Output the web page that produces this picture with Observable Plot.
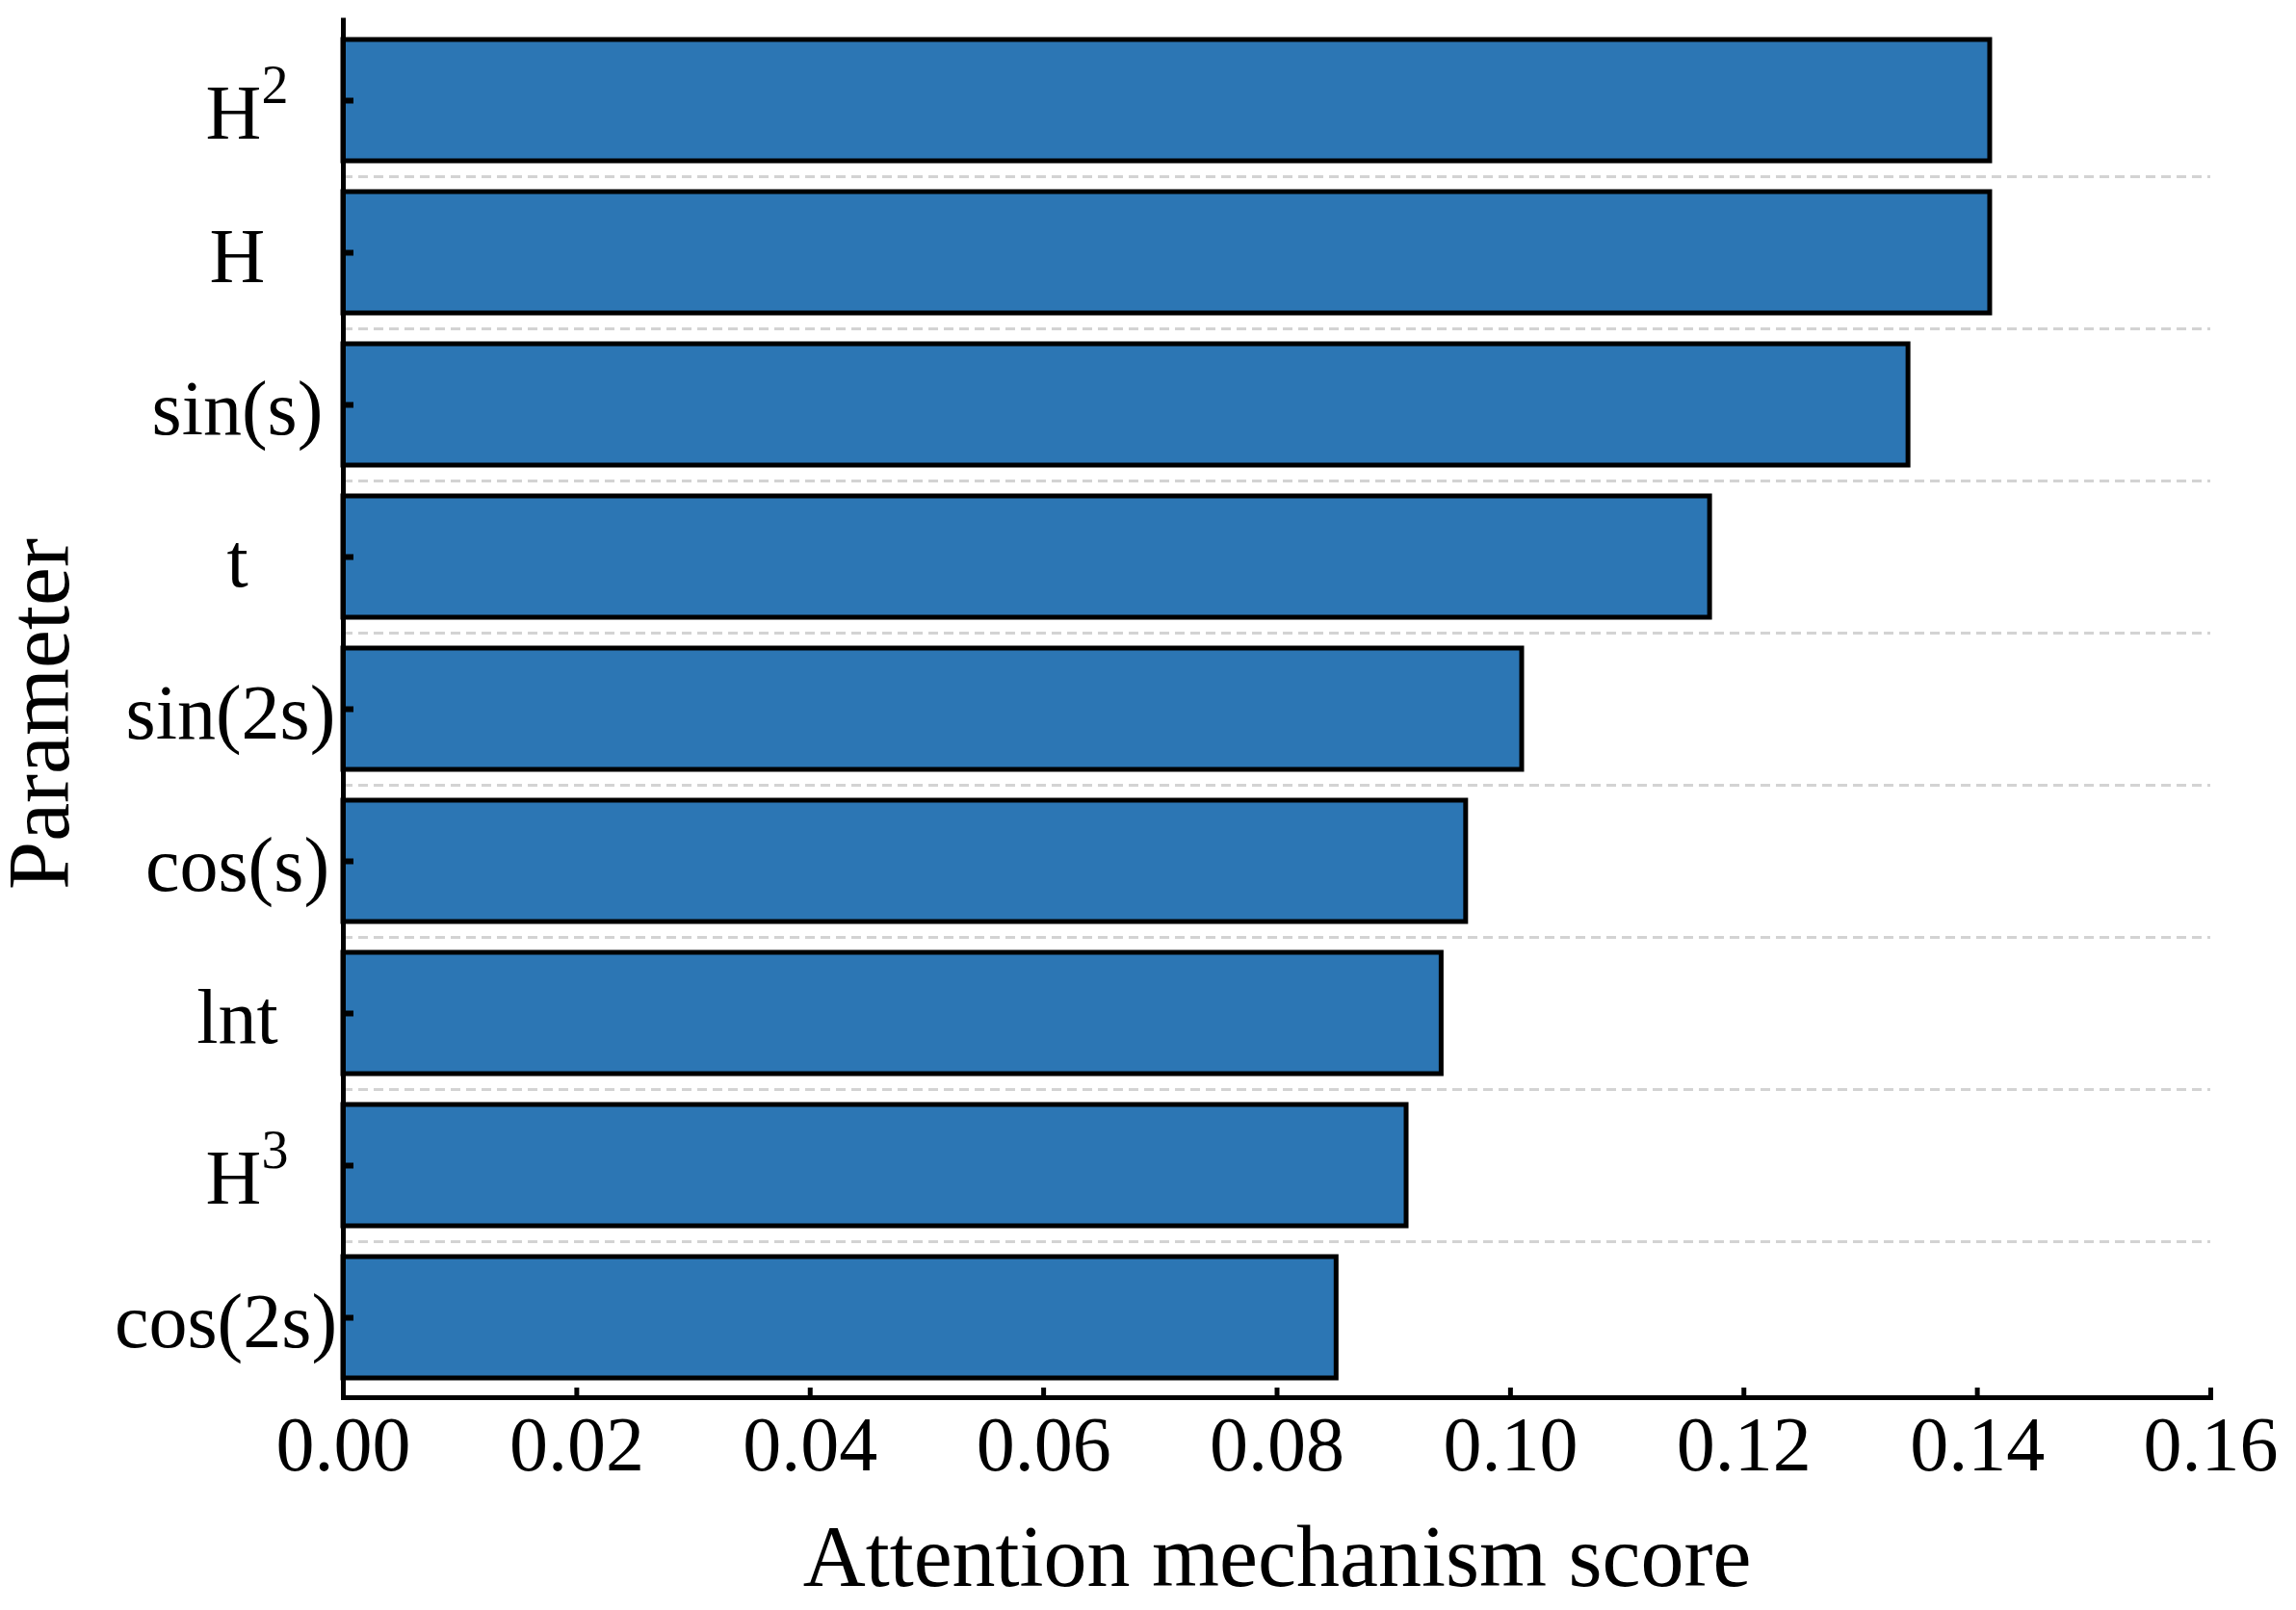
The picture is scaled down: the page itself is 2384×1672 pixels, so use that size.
<!DOCTYPE html>
<html>
<head>
<meta charset="utf-8">
<script src="https://cdn.jsdelivr.net/npm/d3@7"></script>
<script src="https://cdn.jsdelivr.net/npm/@observablehq/plot@0.6"></script>
<style>
  html, body { margin: 0; padding: 0; background: #ffffff; }
  #chart svg { display: block; }
</style>
</head>
<body>
<div id="chart"></div>
<script>
// ---- data ----
const categories = ["H^2", "H", "sin(s)", "t", "sin(2s)", "cos(s)", "lnt", "H^3", "cos(2s)"];
const scores = [0.1411, 0.1411, 0.1341, 0.1171, 0.1010, 0.0962, 0.0941, 0.0911, 0.0851];
const xTicks = [0, 0.02, 0.04, 0.06, 0.08, 0.10, 0.12, 0.14, 0.16];
const xDomain = [0, 0.16];
const xLabel = "Attention mechanism score";
const yLabel = "Parameter";

const data = categories.map((c, i) => ({param: c, score: scores[i]}));

// ---- layout ----
const W = 2384, H = 1672;
const mL = 356, mR = 89, mT = 21, mB = 221;
const plotW = W - mL - mR, plotH = H - mT - mB;
const padIn = 0.2, padOut = 0.12;
const step = plotH / (categories.length - padIn + 2 * padOut);

const blue = "#2c76b4";
const font = "'Liberation Serif', 'Times New Roman', serif";

const wide1 = ["sin(2s)"];
const wide2 = ["cos(2s)"];
const normalCats = categories.filter(c => !wide1.includes(c) && !wide2.includes(c));

const svg = Plot.plot({
  width: W,
  height: H,
  marginLeft: mL,
  marginRight: mR,
  marginTop: mT,
  marginBottom: mB,
  style: {fontFamily: font, fontSize: "80px", color: "black", background: "white", overflow: "visible"},
  x: {domain: xDomain},
  y: {domain: categories, paddingInner: padIn, paddingOuter: padOut, label: null},
  marks: [
    // dashed separators between bands
    Plot.ruleY(categories.slice(1), {y: d => d, dy: -step / 2, stroke: "#d3d3d3", strokeWidth: 3, strokeDasharray: "10,6"}),
    // bars
    Plot.barX(data, {x: "score", y: "param", fill: blue, stroke: "black", strokeWidth: 5}),
    // axis lines
    Plot.ruleX([0], {stroke: "black", strokeWidth: 5, strokeLinecap: "square"}),
    Plot.frame({anchor: "bottom", stroke: "black", strokeWidth: 5, strokeLinecap: "square"}),
    // inward ticks
    Plot.tickX(xTicks, {x: d => d, insetTop: plotH - 10, stroke: "black", strokeWidth: 5}),
    Plot.tickY(categories, {y: d => d, insetRight: plotW - 11, stroke: "black", strokeWidth: 6}),
    // tick labels
    Plot.axisX(xTicks, {tickSize: 0, tickPadding: 19, tickFormat: d3.format(".2f"), fontSize: 80, label: null}),
    Plot.axisY(normalCats, {tickSize: 0, tickPadding: 110, textAnchor: "middle", dy: 5, fontSize: 80, label: null}),
    Plot.axisY(wide1, {tickSize: 0, tickPadding: 117, textAnchor: "middle", dy: 5, fontSize: 80, label: null}),
    Plot.axisY(wide2, {tickSize: 0, tickPadding: 122, textAnchor: "middle", dy: 5, fontSize: 80, label: null}),
    // axis titles
    Plot.text([xLabel], {text: d => d, frameAnchor: "bottom", dy: 167, fontSize: 90, lineAnchor: "middle", textAnchor: "middle"}),
    Plot.text([yLabel], {text: d => d, frameAnchor: "left", rotate: -90, dx: -314, dy: 5, fontSize: 90, lineAnchor: "middle", textAnchor: "middle"})
  ]
});

// render superscripts (e.g. "H^2") as real tspans
const NS = "http://www.w3.org/2000/svg";
svg.querySelectorAll("text").forEach(t => {
  const m = t.textContent.match(/^(.+)\^(\d)$/);
  if (m) {
    t.textContent = "";
    const base = document.createElementNS(NS, "tspan");
    base.setAttribute("dy", "9");
    base.setAttribute("dx", "10");
    base.textContent = m[1];
    const sup = document.createElementNS(NS, "tspan");
    sup.setAttribute("dy", "-37");
    sup.setAttribute("font-size", "56");
    sup.textContent = m[2];
    t.appendChild(base);
    t.appendChild(sup);
  }
});

document.getElementById("chart").appendChild(svg);
</script>
</body>
</html>
